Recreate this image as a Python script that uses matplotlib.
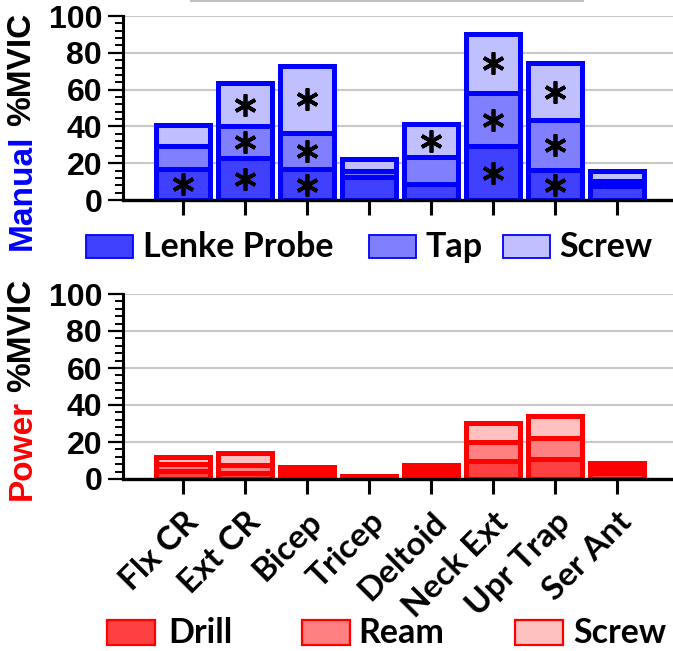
import matplotlib
matplotlib.use("Agg")
import matplotlib.pyplot as plt
from matplotlib.patches import Rectangle
from matplotlib.lines import Line2D
import numpy as np

# ---------------- data ----------------
muscles = ["Flx CR", "Ext CR", "Bicep", "Tricep", "Deltoid", "Neck Ext", "Upr Trap", "Ser Ant"]

manual_labels = ["Lenke Probe", "Tap", "Screw"]
manual_lenke = [16.9, 22.8, 16.7, 12.3, 8.7, 29.3, 16.5, 7.4]
manual_tap = [12.3, 17.6, 19.7, 3.6, 14.8, 28.9, 27.0, 3.0]
manual_screw = [11.5, 23.0, 36.6, 6.4, 17.6, 32.0, 30.8, 5.4]

# significance flags (asterisks) per segment
sig_lenke = [1, 1, 1, 0, 0, 1, 1, 0]
sig_tap = [0, 1, 1, 0, 0, 1, 1, 0]
sig_screw = [0, 1, 1, 0, 1, 1, 1, 0]

power_labels = ["Drill", "Ream", "Screw"]
power_drill = [4.2, 3.5, 2.5, 0.6, 2.5, 9.9, 10.9, 3.0]
power_ream = [4.1, 4.0, 2.0, 0.5, 2.3, 10.0, 11.2, 3.0]
power_screw = [3.5, 6.7, 1.8, 0.4, 3.0, 10.4, 11.7, 2.6]

yticks = [0, 20, 40, 60, 80, 100]

# ---------------- styles ----------------
blue_edge = "#0000FF"
blue_fills = ["#4040FF", "#8080FF", "#C0C0FF"]
red_edge = "#FF0000"
red_fills = ["#FF4040", "#FF8080", "#FFC0C0"]

W, H = 673, 651
fig = plt.figure(figsize=(W / 100, H / 100), dpi=100)


def fx(px):
    return px / W


def fy(py):
    return 1 - py / H


x = np.arange(len(muscles))
xlim = (-(183 - 123) / 62, (673 - 183) / 62)
bar_w = 54 / 62
edge_lw = 3.6

ax1 = fig.add_axes([fx(123), fy(200), fx(673 - 123), (200 - 16) / H])
ax2 = fig.add_axes([fx(123), fy(479), fx(673 - 123), (479 - 294) / H])


def style(ax):
    ax.set_xlim(xlim)
    ax.set_ylim(0, 100)
    ax.spines[["top", "right"]].set_visible(False)
    ax.spines["left"].set_linewidth(2.2)
    ax.spines["bottom"].set_linewidth(2.4)
    ax.set_yticks(yticks)
    ax.set_yticks(np.arange(0, 101, 4), minor=True)
    ax.tick_params(axis="y", which="major", length=11, width=1.6, pad=4, labelsize=23)
    ax.tick_params(axis="y", which="minor", length=6, width=1.4)
    ax.tick_params(axis="x", which="major", length=11, width=2.2)
    ax.set_xticks(x)
    ax.set_axisbelow(True)
    ax.yaxis.grid(True, color="#c8c8c8", lw=1.5)
    for lab in ax.get_yticklabels():
        lab.set_fontfamily("Liberation Sans")
        lab.set_fontweight("bold")


style(ax1)
style(ax2)

# ---------------- top (manual) ----------------
segs = [manual_lenke, manual_tap, manual_screw]
sigs = [sig_lenke, sig_tap, sig_screw]
bottom = np.zeros(len(x))
for vals, sig, fc in zip(segs, sigs, blue_fills):
    vals = np.array(vals)
    ax1.bar(x, vals, bar_w, bottom=bottom, color=fc, edgecolor=blue_edge, linewidth=edge_lw, zorder=2)
    centers = bottom + vals / 2
    sel = np.array(sig, dtype=bool)
    ax1.plot(x[sel], centers[sel], ls="none", marker=(6, 2, 0), ms=16, mew=2.7, color="black", zorder=4)
    bottom = bottom + vals
ax1.set_xticklabels([])

# ---------------- bottom (power) ----------------
segs = [power_drill, power_ream, power_screw]
bottom = np.zeros(len(x))
for vals, fc in zip(segs, red_fills):
    vals = np.array(vals)
    ax2.bar(x, vals, bar_w, bottom=bottom, color=fc, edgecolor=red_edge, linewidth=edge_lw, zorder=2)
    bottom = bottom + vals

ax2.set_xticklabels(muscles, rotation=45, ha="right", va="top", rotation_mode="anchor",
                    fontsize=24, fontfamily="Lato", fontweight="bold")
ax2.tick_params(axis="x", pad=9)

# ---------------- y labels (two-coloured) ----------------
lab_kw = dict(rotation=90, ha="center", va="bottom", fontsize=24,
              fontfamily="Liberation Sans", fontweight="bold")
t1 = fig.text(fx(22), fy(250), "Manual", color="#0000FF", **lab_kw)
t2 = fig.text(fx(22), fy(500), "Power", color="#FF0000", **lab_kw)
fig.canvas.draw()
r = fig.canvas.get_renderer()
for t in (t1, t2):
    bb = t.get_window_extent(r)
    fig.text(fx(22), (bb.y1 + 8) / H, "%MVIC", color="black", **lab_kw)

# ---------------- legends ----------------
leg_font = dict(fontsize=24.5, fontfamily="Lato", fontweight="bold", va="center", ha="left")
top_patch_x = [86, 369, 503]
top_text_x = [143, 425, 559]
for lab, fc, px, tx in zip(manual_labels, blue_fills, top_patch_x, top_text_x):
    fig.add_artist(Rectangle((fx(px), fy(258)), fx(47), 23 / H, transform=fig.transFigure,
                             facecolor=fc, edgecolor=blue_edge, lw=1.3))
    fig.text(fx(tx), fy(247), lab, **leg_font)

bot_patch_x = [107, 302, 515]
bot_text_x = [168, 358, 573]
for lab, fc, px, tx in zip(power_labels, red_fills, bot_patch_x, bot_text_x):
    fig.add_artist(Rectangle((fx(px), fy(645)), fx(48), 25 / H, transform=fig.transFigure,
                             facecolor=fc, edgecolor=red_edge, lw=1.6))
    fig.text(fx(tx), fy(633), lab, **leg_font)

# faint line at the very top
fig.add_artist(Line2D([fx(191), fx(583)], [fy(0.6), fy(0.6)], color="#c0c0c0", lw=1.5))

fig.savefig("out.png", dpi=100)
